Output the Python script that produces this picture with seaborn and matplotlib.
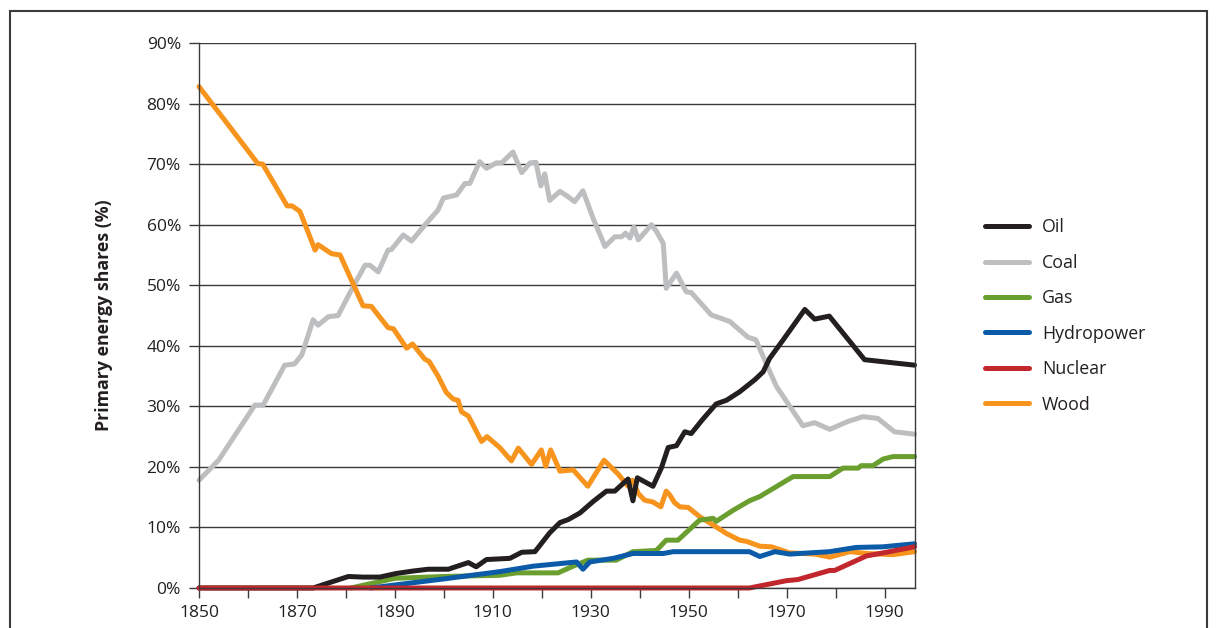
import matplotlib
matplotlib.use("Agg")
import matplotlib.pyplot as plt
from matplotlib.patches import Rectangle
from matplotlib.lines import Line2D
from matplotlib.ticker import FixedLocator, FuncFormatter
import pandas as pd
import seaborn as sns

# Primary energy shares (%)
oil_years = [1850, 1873.3, 1876.7, 1880.5, 1883.5, 1886.9, 1890.3, 1893.7, 1896.8, 1900.9,
             1905.0, 1906.6, 1908.7, 1913.5, 1915.9, 1918.6, 1921.6, 1923.7, 1925.4, 1927.8,
             1930.5, 1933.2, 1934.9, 1937.6, 1938.6, 1939.5, 1942.7, 1944.4, 1945.8, 1947.5,
             1949.2, 1950.5, 1952.9, 1955.6, 1957.7, 1960.4, 1963.5, 1965.2, 1966.5, 1969.3,
             1973.7, 1975.7, 1978.7, 1985.9, 1996.1]
oil = [0, 0, 0.9, 1.9, 1.8, 1.8, 2.4, 2.8, 3.1, 3.1,
       4.2, 3.5, 4.7, 4.9, 5.9, 6.0, 9.1, 10.8, 11.3, 12.4,
       14.3, 16.0, 16.0, 18.0, 14.4, 18.2, 16.8, 19.8, 23.2, 23.5,
       25.8, 25.5, 27.9, 30.4, 31.0, 32.4, 34.4, 35.7, 37.9, 41.0,
       46.0, 44.4, 44.9, 37.7, 36.8]

coal_years = [1850, 1854, 1861.4, 1863.1, 1867.5, 1869.5, 1871, 1873.3, 1874.3, 1876.4,
              1878.4, 1881.5, 1883.9, 1884.9, 1886.6, 1888.6, 1889.3, 1891.7, 1893.4, 1896.4,
              1898.8, 1899.9, 1902.6, 1904.3, 1905.3, 1907.3, 1908.7, 1910.7, 1911.8, 1914.1,
              1915.9, 1917.6, 1918.8, 1919.8, 1920.6, 1921.6, 1923.7, 1925.4, 1926.7, 1928.4,
              1930.5, 1932.9, 1934.9, 1936.3, 1937.1, 1938.0, 1938.8, 1939.7, 1942.4, 1943.4,
              1944.8, 1945.4, 1947.5, 1949.5, 1950.5, 1954.6, 1958.4, 1962.1, 1963.7, 1965.8,
              1967.9, 1973.3, 1975.7, 1978.8, 1982.5, 1985.6, 1988.6, 1992.0, 1996.1]
coal = [17.8, 21.1, 30.2, 30.2, 36.8, 37.0, 38.5, 44.3, 43.4, 44.8,
        45.0, 49.8, 53.3, 53.3, 52.2, 55.8, 55.9, 58.3, 57.3, 60.2,
        62.4, 64.4, 64.9, 66.8, 66.8, 70.4, 69.3, 70.2, 70.2, 72.0,
        68.6, 70.2, 70.3, 66.4, 68.4, 64.0, 65.5, 64.6, 63.8, 65.6,
        61.0, 56.4, 58.0, 58.0, 58.6, 57.8, 59.6, 57.5, 60.0, 58.9,
        56.9, 49.5, 52.0, 48.9, 48.8, 45.1, 44.0, 41.4, 41.0, 37.1,
        33.3, 26.8, 27.3, 26.2, 27.5, 28.3, 28.0, 25.8, 25.4]

gas_years = [1881, 1890, 1900, 1911.4, 1914.8, 1923.3, 1926.4, 1929.4, 1935.2, 1938.6,
             1943.4, 1945.4, 1947.8, 1952.2, 1955.0, 1955.6, 1959.0, 1962.4, 1964.5, 1971.3,
             1978.8, 1981.5, 1984.6, 1985.2, 1987.6, 1989.7, 1991.7, 1996.1]
gas = [0, 1.6, 1.9, 2.1, 2.5, 2.5, 3.6, 4.6, 4.6, 6.0,
       6.2, 7.9, 7.9, 11.2, 11.5, 11.0, 12.8, 14.4, 15.1, 18.4,
       18.4, 19.8, 19.8, 20.2, 20.2, 21.3, 21.7, 21.7]

hydro_years = [1885, 1900, 1911.4, 1918.2, 1927.1, 1928.4, 1929.8, 1934.6, 1938.6, 1944.8,
               1946.8, 1962.4, 1964.5, 1967.6, 1970.6, 1978.8, 1984.2, 1989.7, 1996.1]
hydro = [0, 1.5, 2.7, 3.6, 4.3, 3.1, 4.3, 4.9, 5.7, 5.7,
         6.0, 6.0, 5.2, 6.0, 5.6, 6.0, 6.7, 6.8, 7.3]

nuclear_years = [1850, 1962.4, 1969.9, 1972.3, 1978.8, 1979.8, 1986.3, 1989.7, 1996.1]
nuclear = [0, 0, 1.2, 1.4, 2.9, 2.9, 5.3, 5.8, 6.8]

wood_years = [1850, 1862, 1863, 1868, 1869, 1870.6, 1873.7, 1874.3, 1877.1, 1878.8,
              1883.5, 1885.2, 1888.6, 1889.7, 1892.4, 1893.6, 1896.1, 1897.0, 1898.8, 1900.5,
              1901.9, 1902.9, 1903.6, 1905.0, 1907.7, 1908.8, 1911.4, 1913.8, 1915.2, 1917.9,
              1919.9, 1920.8, 1921.8, 1923.7, 1926.4, 1929.4, 1932.7, 1935.6, 1937.6, 1938.5,
              1939.7, 1941.0, 1942.7, 1944.3, 1945.4, 1946.1, 1947.1, 1948.2, 1949.9, 1952.2,
              1955.0, 1957.7, 1960.4, 1961.8, 1964.5, 1966.9, 1970.6, 1975.7, 1978.8, 1982.9,
              1986.3, 1991.7, 1996.1]
wood = [82.8, 70.1, 70.0, 63.1, 63.1, 62.2, 55.8, 56.7, 55.2, 55.0,
        46.6, 46.5, 43.0, 42.8, 39.6, 40.3, 37.8, 37.4, 35.0, 32.3,
        31.2, 31.0, 29.1, 28.4, 24.2, 25.0, 23.2, 21.0, 23.1, 20.4,
        22.8, 20.1, 22.8, 19.3, 19.5, 16.8, 21.1, 18.8, 16.8, 17.8,
        15.6, 14.5, 14.2, 13.4, 16.0, 15.4, 14.1, 13.4, 13.3, 11.8,
        10.4, 9.0, 7.9, 7.7, 6.9, 6.8, 5.8, 5.6, 5.1, 6.0,
        5.7, 5.5, 6.0]

legend_order = ["Oil", "Coal", "Gas", "Hydropower", "Nuclear", "Wood"]
draw_order = ["Coal", "Wood", "Gas", "Hydropower", "Oil", "Nuclear"]
colors = {
    "Oil": "#231f20",
    "Coal": "#bcbec0",
    "Gas": "#6a9f2f",
    "Hydropower": "#0b5ba8",
    "Nuclear": "#c1272d",
    "Wood": "#f7941d",
}

series = {
    "Oil": (oil_years, oil),
    "Coal": (coal_years, coal),
    "Gas": (gas_years, gas),
    "Hydropower": (hydro_years, hydro),
    "Nuclear": (nuclear_years, nuclear),
    "Wood": (wood_years, wood),
}
frames = []
for name, (yrs, vals) in series.items():
    frames.append(pd.DataFrame({"year": yrs, "share": vals, "source": name}))
df = pd.concat(frames, ignore_index=True)

sns.set_theme(style="white")
plt.rcParams["font.family"] = ["Open Sans", "DejaVu Sans"]
text_color = "#231f20"

fig = plt.figure(figsize=(12.18, 6.28), dpi=100)
ax = fig.add_axes([199 / 1218, 1 - 588 / 628, (915 - 199) / 1218, (588 - 43) / 628])

sns.lineplot(data=df, x="year", y="share", hue="source", hue_order=draw_order,
             palette=colors, estimator=None, sort=True, linewidth=3.6,
             legend=False, ax=ax, clip_on=False)

ax.set_xlim(1850, 1996.2)
ax.set_ylim(0, 90)
ax.yaxis.set_major_locator(FixedLocator(range(0, 91, 10)))
ax.yaxis.set_major_formatter(FuncFormatter(lambda v, p: f"{v:.0f}%"))
ax.xaxis.set_major_locator(FixedLocator(range(1850, 1991, 10)))
ax.xaxis.set_major_formatter(FuncFormatter(lambda v, p: f"{v:.0f}" if int(round(v)) % 20 == 10 else ""))

ax.grid(axis="y", color="#3a3a3a", linewidth=1.0)
ax.set_axisbelow(True)
for side in ["left", "right", "bottom", "top"]:
    ax.spines[side].set_visible(True)
    ax.spines[side].set_color("#3a3a3a")
    ax.spines[side].set_linewidth(1.0)
ax.spines["top"].set_visible(False)

ax.tick_params(axis="both", which="major", direction="out", length=7, width=1.0,
               color="#3a3a3a", labelsize=12.5, labelcolor=text_color, left=True, bottom=True)
ax.tick_params(axis="y", pad=6)
ax.tick_params(axis="x", pad=5)
ax.set_xlabel("")
ax.set_ylabel("Primary energy shares (%)", fontsize=12.8, fontweight="bold",
              color=text_color, labelpad=24)

handles = [Line2D([0], [0], color=colors[n], linewidth=3.6, solid_capstyle="round")
           for n in legend_order]
fig.legend(handles, legend_order, loc="center left", bbox_to_anchor=(985 / 1218, 1 - 316 / 628),
           frameon=False, fontsize=12.8, handlelength=2.5, handletextpad=0.7,
           labelspacing=0.98, borderpad=0, borderaxespad=0, labelcolor=text_color)

fig.patches.append(Rectangle((10 / 1218, -0.05), (1207 - 10) / 1218, 1.05 - 11 / 628,
                             transform=fig.transFigure, fill=False,
                             edgecolor="#3a3a3a", linewidth=1.5))

fig.savefig("out.png", dpi=100)
